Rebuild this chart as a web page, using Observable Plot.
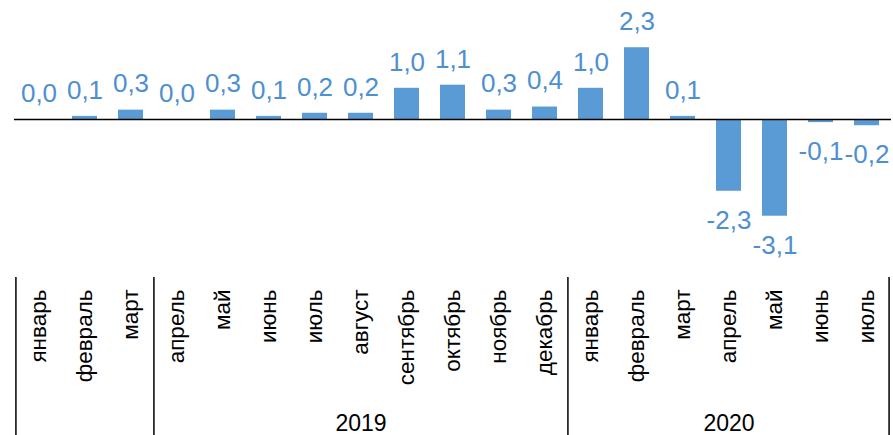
<!DOCTYPE html>
<html>
<head>
<meta charset="utf-8">
<script src="https://cdn.jsdelivr.net/npm/d3@7"></script>
<script src="https://cdn.jsdelivr.net/npm/@observablehq/plot@0.6"></script>
<style>
  html, body { margin: 0; padding: 0; background: #fff; }
  #chart svg { display: block; }
</style>
</head>
<body>
<div id="chart"></div>
<script>
// ---- data ----
const periods = ["2019-01","2019-02","2019-03","2019-04","2019-05","2019-06","2019-07","2019-08","2019-09","2019-10","2019-11","2019-12","2020-01","2020-02","2020-03","2020-04","2020-05","2020-06","2020-07"];
const months = ["январь","февраль","март","апрель","май","июнь","июль","август","сентябрь","октябрь","ноябрь","декабрь","январь","февраль","март","апрель","май","июнь","июль"];
const values = [0.0, 0.1, 0.3, 0.0, 0.3, 0.1, 0.2, 0.2, 1.0, 1.1, 0.3, 0.4, 1.0, 2.3, 0.1, -2.3, -3.1, -0.1, -0.2];
const years = ["2019", "2020"];
const yearCenters = ["2019-08", "2020-04"];
const groupStarts = ["2019-01", "2019-04", "2020-01"];
const groupEnds = ["2020-07"];

// ---- layout ----
const W = 893, H = 435, mLeft = 14, mRight = 2;
const step = (W - mLeft - mRight) / periods.length;
const zeroPx = 119, pxPerUnit = 31.2;
const yTop = zeroPx / pxPerUnit, yBottom = -(H - zeroPx) / pxPerUnit;
const yAtPx = px => (zeroPx - px) / pxPerUnit;

const table = periods.map((p, i) => ({period: p, month: months[i], value: values[i],
  label: values[i].toFixed(1).replace(".", ",")}));
const yearTable = years.map((y, i) => ({year: y, center: yearCenters[i]}));

const blue = "#5b9bd5";
const labelBlue = "#4e8fd0";
const chart = Plot.plot({
  width: W, height: H,
  marginLeft: mLeft, marginRight: mRight, marginTop: 0, marginBottom: 0,
  style: {fontFamily: "'Liberation Sans', Arial, sans-serif", background: "#fff"},
  x: {type: "band", domain: periods, paddingInner: 0.46, paddingOuter: 0.23, axis: null},
  y: {domain: [yBottom, yTop], axis: null},
  marks: [
    Plot.barY(table, {x: "period", y: "value", fill: blue}),
    Plot.ruleY([0], {stroke: "#000", strokeWidth: 1.5}),
    Plot.text(table.filter(d => d.value >= 0), {x: "period", y: "value", text: "label", dy: -26, fontSize: 26, fill: labelBlue}),
    Plot.text(table.filter(d => d.value < 0), {x: "period", y: "value", text: "label", dy: 29, fontSize: 26, fill: labelBlue}),
    Plot.text(table, {x: "period", y: () => yAtPx(289), text: "month", rotate: -90, textAnchor: "end", fontSize: 22.5, fill: "#000"}),
    Plot.text(yearTable, {x: "center", y: () => yAtPx(430), text: "year", lineAnchor: "bottom", fontSize: 23, fill: "#000"}),
    Plot.ruleX(groupStarts, {dx: -step / 2, y1: () => yAtPx(277), y2: () => yBottom, stroke: "#000", strokeWidth: 1.5}),
    Plot.ruleX(groupEnds, {dx: step / 2 - 1, y1: () => yAtPx(277), y2: () => yBottom, stroke: "#000", strokeWidth: 1.5})
  ]
});
document.getElementById("chart").appendChild(chart);
</script>
</body>
</html>
